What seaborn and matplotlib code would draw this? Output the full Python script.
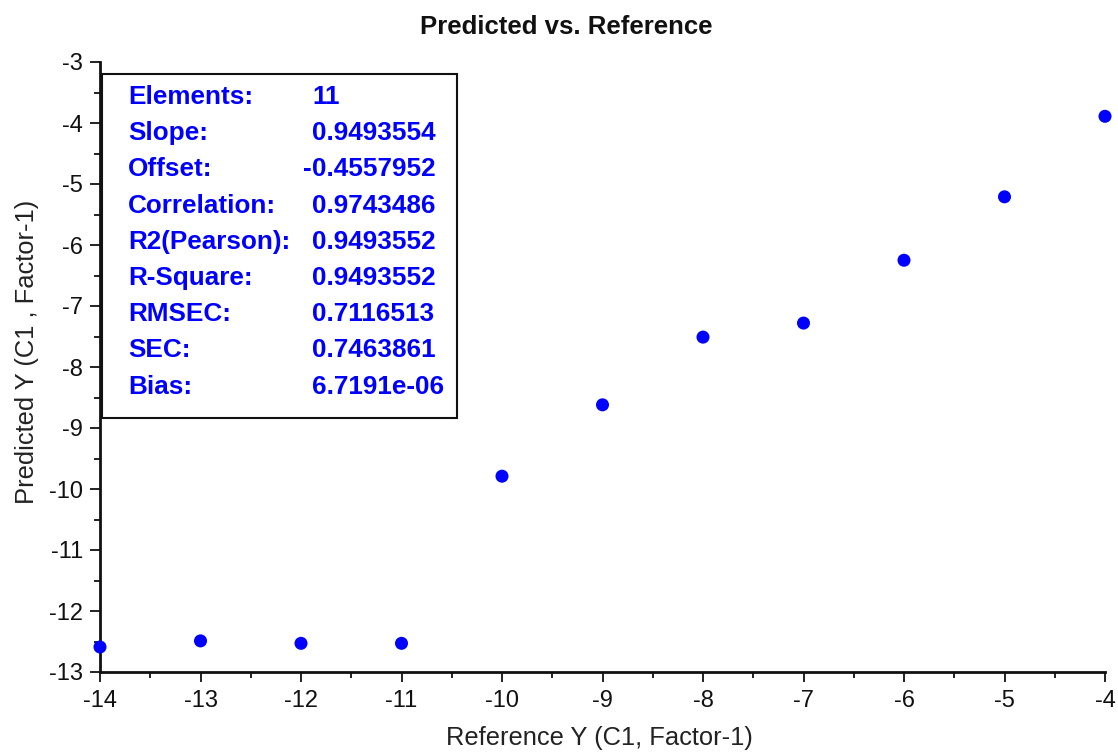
import matplotlib
matplotlib.use("Agg")
import matplotlib.pyplot as plt
import seaborn as sns
import pandas as pd
from matplotlib.patches import Rectangle
from matplotlib.ticker import MultipleLocator

# ---- data ----
reference_y = [-14, -13, -12, -11, -10, -9, -8, -7, -6, -5, -4]
predicted_y = [-12.59, -12.49, -12.53, -12.53, -9.79, -8.62, -7.51, -7.28, -6.25, -5.21, -3.89]
stat_names = ["Elements:", "Slope:", "Offset:", "Correlation:", "R2(Pearson):",
              "R-Square:", "RMSEC:", "SEC:", "Bias:"]
stat_values = ["11", "0.9493554", "-0.4557952", "0.9743486", "0.9493552",
               "0.9493552", "0.7116513", "0.7463861", "6.7191e-06"]
title = "Predicted vs. Reference"
xlabel = "Reference Y (C1, Factor-1)"
ylabel = "Predicted Y (C1 , Factor-1)"

sns.set_style("ticks")
plt.rcParams["font.family"] = ["Liberation Sans", "DejaVu Sans"]
plt.rcParams["axes.unicode_minus"] = False

W, H = 1118, 753
fig = plt.figure(figsize=(W / 100, H / 100), dpi=100)
L, R, T, B = 100, 1105, 62, 672
ax = fig.add_axes([L / W, 1 - B / H, (R - L) / W, (B - T) / H])

df = pd.DataFrame({"ref": reference_y, "pred": predicted_y})
sns.scatterplot(data=df, x="ref", y="pred", ax=ax, color="#0000ff",
                s=88, edgecolor="none", clip_on=False, zorder=5)

ax.set_xlim(-14, -4)
ax.set_ylim(-13, -3)
ax.xaxis.set_major_locator(MultipleLocator(1))
ax.yaxis.set_major_locator(MultipleLocator(1))
ax.xaxis.set_minor_locator(MultipleLocator(0.5))
ax.yaxis.set_minor_locator(MultipleLocator(0.5))
ax.tick_params(which="major", length=7, width=1.3, labelsize=17, colors="#111111")
ax.tick_params(axis="x", which="major", pad=6)
ax.tick_params(axis="y", which="major", pad=5)
ax.tick_params(which="minor", length=4, width=1.3, colors="#111111")
for s in ["top", "right"]:
    ax.spines[s].set_visible(False)
for s in ["left", "bottom"]:
    ax.spines[s].set_linewidth(2)
    ax.spines[s].set_color("#111111")

ax.set_xlabel(xlabel, fontsize=18.4, color="#222222")
ax.set_ylabel(ylabel, fontsize=18.4, color="#222222")
ax.xaxis.set_label_coords(0.497, -66 / 610, transform=ax.transAxes)
ax.yaxis.set_label_coords(-73 / 1005, 0.525, transform=ax.transAxes)
ax.xaxis.label.set_va("center")
ax.yaxis.label.set_va("center")
fig.text(566 / W, 1 - 27 / H, title, ha="center", va="center",
         fontsize=18.5, fontweight="bold", color="#111111")

# stats box (pixel positions -> figure fraction)
def fx(px):
    return px / W

def fy(py):
    return 1 - py / H

box = Rectangle((fx(102), fy(418)), fx(457) - fx(102), fy(74) - fy(418),
                transform=fig.transFigure, facecolor="white", edgecolor="#111111",
                linewidth=1.5, zorder=10)
fig.patches.append(box)
y0, dy = 97, 36.2
fs = 18.8
for i, (n, v) in enumerate(zip(stat_names, stat_values)):
    yy = fy(y0 + i * dy)
    fig.text(fx(128), yy, n, ha="left", va="center", fontsize=fs,
             fontweight="bold", color="#0000ff", zorder=11)
    if v.startswith("-"):
        fig.text(fx(312), yy, "-", ha="right", va="center", fontsize=fs,
                 fontweight="bold", color="#0000ff", zorder=11)
        v = v[1:]
    fig.text(fx(312), yy, v, ha="left", va="center", fontsize=fs,
             fontweight="bold", color="#0000ff", zorder=11)

fig.savefig("out.png", dpi=100, facecolor="white")
